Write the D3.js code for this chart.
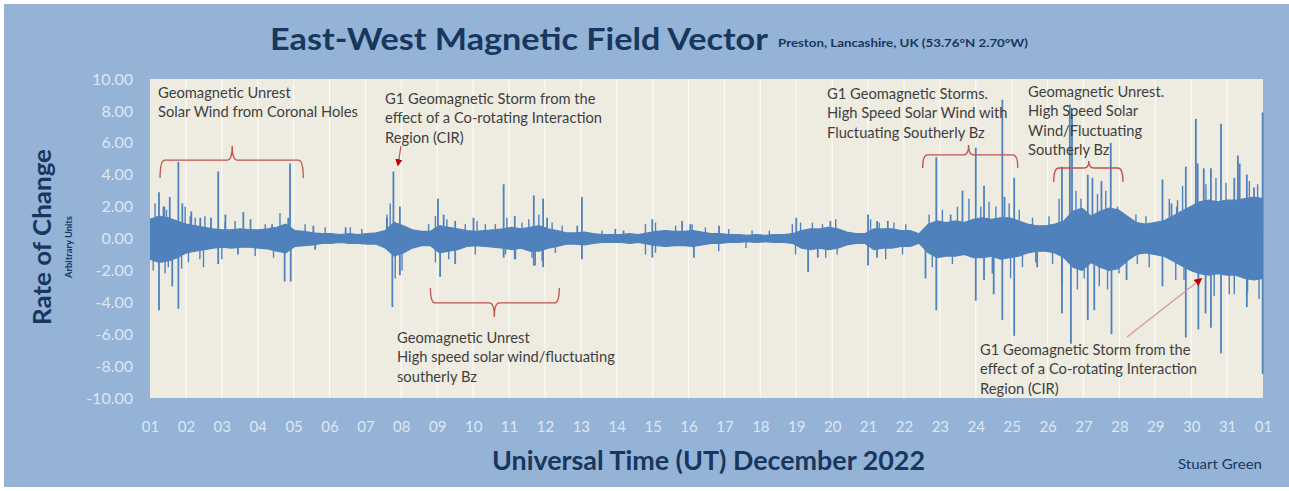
<!DOCTYPE html>
<html><head><meta charset="utf-8">
<script src="https://cdn.jsdelivr.net/npm/d3@7"></script>
<style>
body{margin:0;background:#fff;}
svg{display:block;}
text{font-family:Lato,'Open Sans',sans-serif;}
</style>
</head><body>
<svg id="c" width="1289" height="491"></svg>
<script>
// ---------- DATA ----------
const dayLabels = ["01","02","03","04","05","06","07","08","09","10","11","12","13","14","15","16",
  "17","18","19","20","21","22","23","24","25","26","27","28","29","30","31","01"];
const yTicks = [10,8,6,4,2,0,-2,-4,-6,-8,-10];

// dense band envelope, 6-hour bins, 1 Dec 00:00 -> 1 Jan 00:00
const bandHi = [
 1.2,1.4,1.3,1.1,  0.9,0.8,0.7,0.6,  0.55,0.55,0.6,0.55, 0.55,0.6,0.7,0.9,
 0.5,0.45,0.35,0.3, 0.3,0.25,0.3,0.25, 0.3,0.35,0.5,1.0, 0.8,0.55,0.45,0.45,
 0.8,0.7,0.6,0.5,  0.45,0.5,0.55,0.6, 0.7,0.6,0.7,0.8,  0.6,0.5,0.35,0.35,
 0.4,0.3,0.25,0.25, 0.25,0.3,0.25,0.35, 0.45,0.5,0.45,0.45, 0.5,0.4,0.3,0.3,
 0.25,0.25,0.2,0.25, 0.2,0.25,0.25,0.3, 0.5,0.6,0.6,0.7, 0.6,0.4,0.3,0.3,
 0.6,0.6,0.6,0.5,  0.5,0.3,0.9,1.1,  1.0,1.1,1.0,1.2,  1.3,1.2,1.3,1.3,
 1.1,0.9,0.8,0.8,  0.9,1.1,1.7,1.9,  1.4,1.7,1.9,1.8,  1.4,1.0,0.9,1.0,
 1.1,1.4,1.7,2.0,  2.3,2.4,2.3,2.4,  2.4,2.5,2.6,2.5];
const bandLo = [
 -1.3,-1.5,-1.4,-1.2, -0.9,-0.8,-0.7,-0.6, -0.55,-0.6,-0.55,-0.55, -0.6,-0.65,-0.8,-0.9,
 -0.5,-0.45,-0.4,-0.3, -0.3,-0.25,-0.3,-0.3, -0.35,-0.35,-0.6,-1.1, -0.9,-0.6,-0.45,-0.45,
 -0.9,-0.8,-0.7,-0.5, -0.45,-0.5,-0.55,-0.6, -0.7,-0.6,-0.8,-0.8, -0.6,-0.5,-0.35,-0.35,
 -0.4,-0.3,-0.25,-0.25, -0.25,-0.3,-0.25,-0.35, -0.45,-0.5,-0.45,-0.45, -0.5,-0.4,-0.3,-0.3,
 -0.25,-0.25,-0.2,-0.25, -0.2,-0.25,-0.25,-0.3, -0.6,-0.7,-0.6,-0.7, -0.6,-0.4,-0.3,-0.3,
 -0.7,-0.6,-0.6,-0.5, -0.5,-0.3,-0.9,-1.2, -1.1,-1.1,-1.0,-1.2, -1.2,-1.1,-1.3,-1.2,
 -1.1,-0.9,-0.8,-0.8, -0.9,-1.2,-1.8,-2.0, -1.5,-1.8,-2.0,-1.9, -1.4,-1.0,-0.9,-1.0,
 -1.1,-1.4,-1.7,-2.0, -2.2,-2.3,-2.2,-2.3, -2.3,-2.5,-2.6,-2.5];

// major spikes: [day of month (fractional), value]
const spikes = [
 [1.25,2.9],[1.25,-4.5],[1.40,2.0],[1.55,2.6],[1.62,-3.0],[1.79,4.8],[1.79,-4.4],[1.90,2.2],
 [2.15,1.7],[2.40,1.3],[2.70,1.3],[2.90,4.2],[2.90,-1.6],[3.10,1.5],[3.45,-1.0],[3.60,1.65],
 [3.80,1.2],[4.40,0.9],[4.75,-2.7],[4.85,1.3],[4.90,4.7],[4.92,-2.7],[5.55,0.8],[5.60,-0.7],
 [6.45,0.7],[7.60,1.3],[7.75,-4.3],[7.78,4.2],[7.96,2.0],[7.96,-2.3],
 [9.02,2.5],[9.08,-2.4],[9.18,1.5],[9.50,1.1],[9.50,-1.6],[10.01,1.3],[10.85,3.4],[10.85,-1.2],
 [11.16,1.4],[11.16,-1.3],[11.69,2.7],[11.69,-1.7],[11.95,2.5],[11.95,-1.8],[12.06,1.3],
 [12.90,0.8],[13.03,2.6],[13.03,-1.3],[13.96,0.6],[14.19,0.5],[14.99,1.2],[14.99,-1.2],
 [15.82,1.1],[16.05,0.9],[16.15,-1.2],[16.85,0.8],
 [19.00,1.3],[19.33,-2.1],[19.60,-1.2],[19.95,1.1],[21.00,1.5],[21.00,-1.7],[21.25,1.1],
 [21.25,-1.2],[21.55,1.1],[22.60,-2.5],[22.90,5.1],[22.90,-4.5],[23.30,1.5],[23.63,3.0],
 [24.00,5.7],[24.00,-3.9],[24.23,3.3],[24.23,-2.6],[24.50,-3.5],[24.74,8.7],[24.74,-5.1],
 [24.80,2.6],[25.07,3.8],[25.07,-6.1],[25.71,-1.8],[26.40,4.5],[26.40,-4.7],[26.62,8.4],
 [26.65,-6.6],[26.68,7.8],[26.95,1.5],[27.12,4.0],[27.12,-5.1],[27.25,3.8],[27.30,-4.5],
 [27.50,3.6],[27.76,6.0],[27.78,-6.0],[28.20,-2.6],
 [29.20,3.7],[29.20,-3.0],[29.45,2.2],[29.60,2.0],[29.85,4.5],[29.85,-6.2],[30.13,7.5],
 [30.18,4.7],[30.20,-5.7],[30.35,4.4],[30.40,-4.7],[30.55,4.4],[30.55,-5.6],[30.83,7.2],
 [30.83,-7.2],[31.20,3.8],[31.30,5.2],[31.35,4.7],[31.55,-4.3],[31.55,4.0],[31.75,3.2],
 [31.99,7.9],[31.99,-8.5]];

// smaller excursions just outside the dense band: [day, value]
const minorSpikes = [
 [1.09,-2.0],[1.14,2.2],[1.37,2.0],[1.42,-2.2],[1.46,1.8],[1.51,-1.8],[1.88,-1.9],[1.98,2.0],
 [2.07,-1.5],[2.12,1.4],[2.26,1.3],[2.39,-1.3],[2.49,-1.8],[2.53,1.4],[3.00,-1.3],[3.09,1.0],
 [3.37,1.1],[3.93,-1.1],[4.21,0.9],[4.44,-1.2],[4.62,1.6],[5.32,0.9],[5.88,0.7],[6.58,0.7],
 [6.90,0.6],[7.60,1.5],[7.69,2.2],[7.83,-2.5],[8.02,-2.0],
 [8.76,0.9],[8.95,1.4],[8.95,-1.5],[9.27,1.2],[9.32,-1.3],[9.78,0.9],[10.06,-1.0],[10.11,1.1],
 [10.34,0.9],[10.62,0.9],[10.90,-1.0],[10.94,1.3],[11.18,-1.3],[11.36,1.0],[11.55,1.2],
 [11.64,-1.2],[11.73,-1.7],[11.83,1.5],[11.92,-1.4],[12.20,1.0],[12.29,-0.9],[12.48,0.8],
 [13.59,0.5],[14.80,0.9],[14.80,-1.0],[15.08,1.0],[15.08,-0.9],[15.64,0.8],[16.10,0.9],
 [16.47,0.7],[16.84,-0.8],[17.12,0.6],[17.60,-0.6],[17.77,0.5],[18.25,0.5],[18.89,0.9],
 [18.98,-1.0],[19.12,1.0],[19.45,1.0],[19.73,0.9],[19.82,-1.2],[20.10,1.2],[20.14,-1.0],
 [21.07,1.2],[21.31,1.0],[21.49,-1.3],[21.72,1.0],[21.96,-1.0],[22.05,0.9],[22.70,1.5],
 [22.79,-1.8],[23.07,1.8],[23.35,-1.6],[23.49,2.0],
 [23.81,2.5],[24.14,2.0],[24.37,2.3],[24.46,-2.2],[24.56,2.0],[24.93,2.2],[24.97,-2.5],
 [25.21,1.8],[25.30,-1.8],[25.58,1.3],[25.67,-1.5],[26.04,1.4],[26.14,-1.6],[26.32,2.5],
 [26.41,-2.8],[26.79,3.0],[26.83,-3.2],[26.93,2.5],[27.02,-2.5],[27.39,2.8],[27.44,-3.0],
 [27.62,3.0],[27.67,-3.2],[27.95,2.0],[27.99,-2.2],[28.46,1.5],[28.50,-1.6],[28.74,1.4],
 [28.83,-1.8],[29.39,2.5],[29.57,-2.6],[29.62,2.4],[29.76,3.3],[29.80,-2.6],[30.41,3.4],
 [30.64,-3.6],[30.69,3.8],[30.97,3.5],[31.06,-3.5],[31.20,-3.5],[31.34,4.2],[31.57,-3.4],
 [31.62,3.6],[31.85,3.4],[31.89,-3.8]];

const titleText = "East-West Magnetic Field Vector";
const subtitleText = "Preston, Lancashire, UK  (53.76°N 2.70°W)";
const xTitle = "Universal Time (UT) December 2022";
const yTitle = "Rate of Change";
const ySub = "Arbitrary Units";
const credit = "Stuart Green";

const notes = [
 {lines:["Geomagnetic Unrest","Solar Wind from Coronal Holes"], x:158, y:92},
 {lines:["G1 Geomagnetic Storm from the","effect of a Co-rotating Interaction","Region (CIR)"], x:385, y:98},
 {lines:["Geomagnetic Unrest","High speed solar wind/fluctuating","southerly Bz"], x:397, y:337},
 {lines:["G1 Geomagnetic Storms.","High Speed Solar Wind with","Fluctuating Southerly Bz"], x:827, y:93},
 {lines:["Geomagnetic Unrest.","High Speed Solar","Wind/Fluctuating","Southerly Bz"], x:1028, y:91},
 {lines:["G1 Geomagnetic Storm from the","effect of a Co-rotating Interaction","Region (CIR)"], x:980, y:349}
];
// braces: [startDay, endDay, tipDay, lineValue, endValue, tipValue]
const braces = [
 [1.28,5.27,3.29,4.92,3.8,5.8],
 [8.81,12.40,10.59,-4.04,-3.1,-4.92],
 [22.52,25.17,23.80,5.24,4.42,5.86],
 [26.17,28.10,27.15,4.42,3.54,4.86]
];

// ---------- DRAW ----------
const W=1289,H=491;
const svg=d3.select('#c');
svg.append('rect').attr('width',W).attr('height',H).attr('fill','#ffffff');
svg.append('rect').attr('x',4).attr('y',4).attr('width',W-4).attr('height',H-8).attr('fill','#95b3d7');

const x=d3.scaleLinear().domain([1,32]).range([150,1263]);
const y=d3.scaleLinear().domain([-10,10]).range([398,79]);

svg.append('rect').attr('x',x(1)).attr('y',y(10)).attr('width',x(32)-x(1)).attr('height',y(-10)-y(10))
  .attr('fill','#eeece1');

// gridlines
svg.append('g').selectAll('line').data(d3.range(2,32)).join('line')
  .attr('x1',d=>x(d)).attr('x2',d=>x(d)).attr('y1',y(10)).attr('y2',y(-10))
  .attr('stroke','#fbfaf6').attr('stroke-width',1.2);

// axes
const yAx=svg.append('g').attr('transform',`translate(${x(1)},0)`)
  .call(d3.axisLeft(y).tickValues(yTicks).tickFormat(d=>d.toFixed(2)).tickSize(0).tickPadding(17));
yAx.select('.domain').remove();
yAx.selectAll('text').attr('fill','#dde7f3').style('font-size','16px');

const xAx=svg.append('g').attr('transform',`translate(0,${y(-10)})`)
  .call(d3.axisBottom(x).tickValues(d3.range(1,33)).tickFormat((d,i)=>dayLabels[i]).tickSize(0).tickPadding(23));
xAx.select('.domain').remove();
xAx.selectAll('text').attr('fill','#dde7f3').style('font-size','15px');

// band
const bandX=i=>1+i*31/(bandHi.length-1);
const area=d3.area().x((d,i)=>x(bandX(i))).y0((d,i)=>y(bandLo[i])).y1(d=>y(d));
svg.append('path').datum(bandHi).attr('d',area).attr('fill','#4f81bd');
svg.append('path').datum(bandHi).attr('d',d3.line().x((d,i)=>x(bandX(i))).y(d=>y(d)))
  .attr('fill','none').attr('stroke','#4f81bd').attr('stroke-width',1.2);
svg.append('path').datum(bandLo).attr('d',d3.line().x((d,i)=>x(bandX(i))).y(d=>y(d)))
  .attr('fill','none').attr('stroke','#4f81bd').attr('stroke-width',1.2);

// minor excursions
svg.append('g').selectAll('line').data(minorSpikes).join('line')
  .attr('x1',d=>x(d[0])).attr('x2',d=>x(d[0])).attr('y1',y(0)).attr('y2',d=>y(d[1]))
  .attr('stroke','#4f81bd').attr('stroke-width',1.4);
// spikes
svg.append('g').selectAll('line').data(spikes).join('line')
  .attr('x1',d=>x(d[0])).attr('x2',d=>x(d[0])).attr('y1',y(0)).attr('y2',d=>y(d[1]))
  .attr('stroke','#4f81bd').attr('stroke-width',1.8);

// braces
const braceColor='#c0504d';
braces.forEach(b=>{
  const [d1,d2,dt,lv,ev,tv]=b;
  const x1=x(d1),x2=x(d2),xt=x(dt),yl=y(lv),ye=y(ev),yt=y(tv);
  const r=5;
  const p=d3.path();
  p.moveTo(x1,ye);
  p.quadraticCurveTo(x1,yl,x1+r,yl);
  p.lineTo(xt-r,yl);
  p.quadraticCurveTo(xt,yl,xt,yt);
  p.quadraticCurveTo(xt,yl,xt+r,yl);
  p.lineTo(x2-r,yl);
  p.quadraticCurveTo(x2,yl,x2,ye);
  svg.append('path').attr('d',p.toString()).attr('fill','none').attr('stroke',braceColor).attr('stroke-width',1.3);
});

// arrows
const defs=svg.append('defs');
defs.append('marker').attr('id','ah').attr('viewBox','0 0 10 10').attr('refX',8).attr('refY',5)
  .attr('markerWidth',6).attr('markerHeight',6).attr('orient','auto')
  .append('path').attr('d','M0,0L10,5L0,10z').attr('fill','#c00000');
svg.append('line').attr('x1',401).attr('y1',146).attr('x2',398).attr('y2',165)
  .attr('stroke','#c0504d').attr('stroke-width',1.2).attr('marker-end','url(#ah)');
svg.append('line').attr('x1',1127).attr('y1',337).attr('x2',1201).attr('y2',279)
  .attr('stroke','#d99694').attr('stroke-width',1.3).attr('marker-end','url(#ah)');

// annotation texts
const noteG=svg.append('g');
notes.forEach(n=>{
  n.lines.forEach((t,i)=>{
    noteG.append('text').attr('x',n.x).attr('y',n.y+i*19.3).attr('dominant-baseline','central')
      .attr('fill','#3f3f3f').style('font-size','15px').text(t);
  });
});
(function(){
  const ref=noteG.selectAll('text').filter(function(){return this.textContent==="effect of a Co-rotating Interaction";}).node();
  const k=217/ref.getComputedTextLength();
  noteG.selectAll('text').each(function(){
    const w=this.getComputedTextLength();
    d3.select(this).attr('textLength',w*k).attr('lengthAdjust','spacingAndGlyphs');
  });
})();

function fit(sel,w){
  sel.attr('textLength',w).attr('lengthAdjust','spacingAndGlyphs');
  return sel;
}
// title
const tt=svg.append('text').attr('x',270).attr('y',50).attr('fill','#17375e')
  .style('font-size','31px').style('font-weight','700').text(titleText);
fit(tt,498);
const st=svg.append('text').attr('x',778).attr('y',47).attr('fill','#17375e')
  .style('font-size','12px').style('font-weight','700').text(subtitleText);
fit(st,250);

// axis titles
const xt=svg.append('text').attr('x',492).attr('y',470).attr('fill','#17375e')
  .style('font-size','26px').style('font-weight','700').text(xTitle);
fit(xt,433);
const yt=svg.append('text').attr('transform','translate(51,237) rotate(-90)').attr('text-anchor','middle')
  .attr('fill','#17375e').style('font-size','25px').style('font-weight','700').text(yTitle);
fit(yt,176);
const ys=svg.append('text').attr('transform','translate(72,247) rotate(-90)').attr('text-anchor','middle')
  .attr('fill','#17375e').style('font-size','9px').style('font-weight','700').text(ySub);
fit(ys,62);
const cr=svg.append('text').attr('x',1178).attr('y',469).attr('fill','#17375e')
  .style('font-size','13px').text(credit);
fit(cr,84);
</script>
</body></html>
